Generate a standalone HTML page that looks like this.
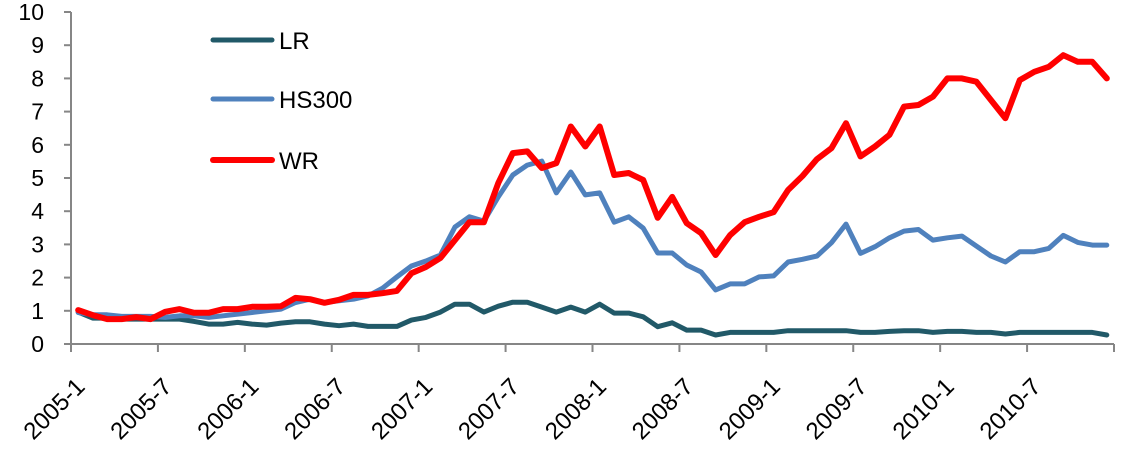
<!DOCTYPE html>
<html><head><meta charset="utf-8"><style>
html,body{margin:0;padding:0;background:#fff;}
svg{display:block;font-family:"Liberation Sans",Arial,sans-serif;}
</style></head><body>
<svg id="chart" width="1128" height="468" viewBox="0 0 1128 468" xmlns="http://www.w3.org/2000/svg"></svg>
<script>
const yTicks = [0,1,2,3,4,5,6,7,8,9,10];
const xTickLabels = ["2005-1","2005-7","2006-1","2006-7","2007-1","2007-7","2008-1","2008-7","2009-1","2009-7","2010-1","2010-7"];
const seriesNames = ["LR","HS300","WR"];
const lrValues = [0.96,0.78,0.78,0.75,0.75,0.75,0.75,0.75,0.68,0.6,0.6,0.65,0.6,0.57,0.63,0.67,0.67,0.6,0.55,0.6,0.53,0.53,0.53,0.72,0.8,0.96,1.2,1.2,0.96,1.14,1.26,1.26,1.11,0.96,1.11,0.96,1.2,0.93,0.93,0.82,0.52,0.64,0.42,0.42,0.27,0.35,0.35,0.35,0.35,0.4,0.4,0.4,0.4,0.4,0.35,0.35,0.38,0.4,0.4,0.35,0.38,0.38,0.35,0.35,0.3,0.35,0.35,0.35,0.35,0.35,0.35,0.27];
const hsValues = [0.95,0.88,0.88,0.83,0.83,0.83,0.8,0.85,0.85,0.8,0.85,0.9,0.95,1.0,1.05,1.25,1.35,1.25,1.3,1.35,1.45,1.68,2.02,2.35,2.5,2.68,3.52,3.83,3.7,4.43,5.09,5.39,5.51,4.55,5.18,4.49,4.55,3.67,3.83,3.49,2.74,2.74,2.38,2.17,1.63,1.81,1.81,2.02,2.05,2.47,2.55,2.65,3.05,3.61,2.73,2.93,3.2,3.4,3.45,3.13,3.2,3.25,2.95,2.65,2.47,2.78,2.78,2.88,3.27,3.06,2.98,2.98];
const wrValues = [1.02,0.87,0.75,0.75,0.81,0.75,0.97,1.05,0.94,0.94,1.05,1.05,1.12,1.12,1.14,1.39,1.35,1.24,1.33,1.48,1.48,1.53,1.6,2.13,2.32,2.59,3.13,3.67,3.67,4.85,5.75,5.8,5.3,5.45,6.55,5.95,6.55,5.09,5.15,4.94,3.8,4.43,3.64,3.34,2.68,3.28,3.67,3.83,3.97,4.64,5.06,5.57,5.9,6.65,5.65,5.95,6.3,7.15,7.2,7.45,8.0,8.0,7.9,7.35,6.8,7.95,8.2,8.35,8.7,8.5,8.5,8.0];

const NS="http://www.w3.org/2000/svg";
const svg=document.getElementById('chart');
const X0=71, X1=1114, Y0=344, Y1=12, N=72;
const step=(X1-X0)/N;
function xPos(i){return X0+(i+0.5)*step;}
function yPos(v){return Y0-(v-0)/(10-0)*(Y0-Y1);}
function mk(tag,attrs){const e=document.createElementNS(NS,tag);for(const k in attrs)e.setAttribute(k,attrs[k]);svg.appendChild(e);return e;}

const yAxis=mk('line',{x1:X0,y1:Y1,x2:X0,y2:Y0,stroke:'#868686','stroke-width':2});


yTicks.forEach(t=>{
  const tk=mk('line',{x1:X0-7,y1:yPos(t),x2:X0,y2:yPos(t),stroke:'#868686','stroke-width':2});
  
  
  const lb=mk('text',{x:44,y:yPos(t)+8,'text-anchor':'end','font-size':23,fill:'#000'});
  lb.textContent=t;
  
  
});
const xAxis=mk('line',{x1:X0,y1:Y0,x2:X1,y2:Y0,stroke:'#868686','stroke-width':2});


for(let k=0;k<=12;k++){
  const x=X0+k*6*step;
  const tk=mk('line',{x1:x,y1:Y0,x2:x,y2:Y0+8,stroke:'#868686','stroke-width':2});
  
  
}
xTickLabels.forEach((l,k)=>{
  const x=xPos(k*6)+8, y=Y0+44;
  const lb=mk('text',{x:x,y:y,'text-anchor':'end','font-size':24,fill:'#000',transform:`rotate(-45 ${x} ${y})`});
  lb.textContent=l;
  
  
});
const colors=['#215968','#4F81BD','#FF0000'];
const widths=[5,5,6];
const allVals=[lrValues,hsValues,wrValues];
const names=['lr-line','hs300-line','wr-line'];
allVals.forEach((vals,s)=>{
  const d=vals.map((v,i)=>(i?'L':'M')+xPos(i).toFixed(1)+','+yPos(v).toFixed(1)).join(' ');
  const p=mk('path',{d:d,fill:'none',stroke:colors[s],'stroke-width':widths[s],'stroke-linejoin':'round','stroke-linecap':'round'});
  
  
});
const legY=[40,99,160];
seriesNames.forEach((n,s)=>{
  const g=document.createElementNS(NS,'g');svg.appendChild(g);
  
  
  const l=document.createElementNS(NS,'line');
  [['x1',213],['x2',272],['y1',legY[s]],['y2',legY[s]],['stroke',colors[s]],['stroke-width',widths[s]],['stroke-linecap','round']].forEach(a=>l.setAttribute(a[0],a[1]));
  g.appendChild(l);
  const t=document.createElementNS(NS,'text');
  t.setAttribute('x',279);t.setAttribute('y',legY[s]+9);t.setAttribute('font-size',24);
  t.textContent=n;g.appendChild(t);
});
</script>
</body></html>
